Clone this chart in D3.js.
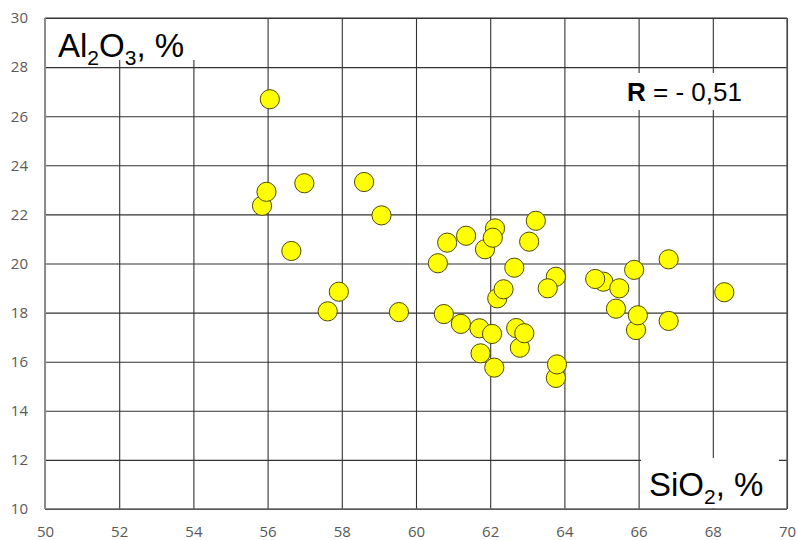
<!DOCTYPE html>
<html>
<head>
<meta charset="utf-8">
<script src="https://cdn.jsdelivr.net/npm/d3@7"></script>
<style>
  body { margin: 0; background: #fff; }
  svg { display: block; }
</style>
</head>
<body>
<svg width="798" height="540"></svg>
<script>
// SiO2 / Al2O3 pairs, in drawing order (later ones sit on top)
const sio2 = [56.06, 55.85, 55.97, 56.99, 58.60, 59.07, 56.64, 57.92, 57.62, 59.54,
              60.84, 61.35, 62.13, 61.86, 62.07, 63.23, 63.05, 60.59, 62.65, 63.77,
              63.55, 62.19, 62.36, 60.75, 61.21, 61.71, 62.05, 62.70, 62.80, 62.92,
              61.74, 62.11, 63.77, 63.80, 65.05, 64.83, 65.48, 65.88, 66.81, 65.39,
              65.93, 65.98, 66.81, 68.31];
const al2o3 = [26.69, 22.35, 22.92, 23.27, 23.32, 21.96, 20.51, 18.85, 18.05, 18.02,
               20.85, 21.13, 21.43, 20.58, 21.05, 21.74, 20.89, 20.01, 19.83, 19.46,
               18.99, 18.58, 18.95, 17.94, 17.54, 17.36, 17.13, 17.37, 16.57, 17.16,
               16.34, 15.76, 15.34, 15.89, 19.26, 19.37, 18.99, 19.74, 20.17, 18.16,
               17.29, 17.89, 17.66, 18.83];

const xTicks = [50, 52, 54, 56, 58, 60, 62, 64, 66, 68, 70];
const yTicks = [10, 12, 14, 16, 18, 20, 22, 24, 26, 28, 30];

const data = sio2.map((d, i) => ({ x: d, y: al2o3[i] }));

const chart = () => {
    const margin = { top: 18, right: 11, bottom: 31, left: 45 };
    const width = 798, height = 540;

    const svg = d3.select("svg");

    const x = d3.scaleLinear()
        .domain([50, 70])
        .range([margin.left, width - margin.right]);

    const y = d3.scaleLinear()
        .domain([10, 30])
        .range([height - margin.bottom, margin.top]);

    const innerW = x(70) - x(50);
    const innerH = y(10) - y(30);

    // grid + tick labels
    svg.append("g")
        .attr("transform", `translate(0,${y(10)})`)
        .call(d3.axisBottom(x).tickValues(xTicks).tickSize(-innerH).tickPadding(17))
        .call(g => g.select(".domain").remove())
        .call(g => g.selectAll("line").attr("stroke", "#333").attr("stroke-width", 1.1))
        .call(g => g.selectAll("text")
            .style("font", "15px 'Open Sans', sans-serif")
            .attr("fill", "#595959"));

    svg.append("g")
        .attr("transform", `translate(${x(50)},0)`)
        .call(d3.axisLeft(y).tickValues(yTicks).tickSize(-innerW).tickPadding(17))
        .call(g => g.select(".domain").remove())
        .call(g => g.selectAll("line").attr("stroke", "#333").attr("stroke-width", 1.1))
        .call(g => g.selectAll("text")
            .style("font", "15px 'Open Sans', sans-serif")
            .attr("fill", "#595959"));

    // label boxes cover the grid
    svg.append("rect").attr("x", x(50) + 1).attr("y", y(30) + 1)
        .attr("width", 150).attr("height", 41).attr("fill", "#fff");
    svg.append("rect").attr("x", 602).attr("y", 73)
        .attr("width", 150).attr("height", 37).attr("fill", "#fff");
    svg.append("rect").attr("x", 641).attr("y", 458)
        .attr("width", 138).attr("height", y(10) - 459).attr("fill", "#fff");

    // frame
    svg.append("line").attr("x1", x(50)).attr("x2", x(70)).attr("y1", y(30)).attr("y2", y(30))
        .attr("stroke", "#333").attr("stroke-width", 1.1);
    svg.append("line").attr("x1", x(70)).attr("x2", x(70)).attr("y1", y(30)).attr("y2", y(10))
        .attr("stroke", "#555").attr("stroke-width", 1.3);
    svg.append("line").attr("x1", x(50)).attr("x2", x(70)).attr("y1", y(10)).attr("y2", y(10))
        .attr("stroke", "#666").attr("stroke-width", 1.6);
    svg.append("line").attr("x1", x(50)).attr("x2", x(50)).attr("y1", y(30)).attr("y2", y(10))
        .attr("stroke", "#8c8c8c").attr("stroke-width", 2);

    // points
    svg.append("g")
    .selectAll("circle")
    .data(data)
    .enter().append("circle")
        .attr("cx", d => x(d.x))
        .attr("cy", d => y(d.y))
        .attr("r", 9.6)
        .attr("fill", "#ffff00")
        .attr("stroke", "#4d4a00")
        .attr("stroke-width", 1);

    // axis titles
    const font = "'Liberation Sans', Arial, sans-serif";
    const t1 = svg.append("text").attr("x", 58).attr("y", 57)
        .style("font-family", font).style("font-size", "33px").attr("fill", "#000");
    t1.append("tspan").text("Al");
    t1.append("tspan").text("2").style("font-size", "21px").attr("dy", 8);
    t1.append("tspan").text("O").attr("dy", -8);
    t1.append("tspan").text("3").style("font-size", "21px").attr("dy", 8);
    t1.append("tspan").text(", %").attr("dy", -8);

    const t2 = svg.append("text").attr("x", 649).attr("y", 496)
        .style("font-family", font).style("font-size", "33px").attr("fill", "#000");
    t2.append("tspan").text("SiO");
    t2.append("tspan").text("2").style("font-size", "21px").attr("dy", 8);
    t2.append("tspan").text(", %").attr("dy", -8);

    const t3 = svg.append("text").attr("x", 627).attr("y", 101)
        .style("font-family", font).style("font-size", "26px").attr("fill", "#000");
    t3.append("tspan").text("R").style("font-weight", "bold");
    t3.append("tspan").text(" = - 0,51");
};

chart();
</script>
</body>
</html>
